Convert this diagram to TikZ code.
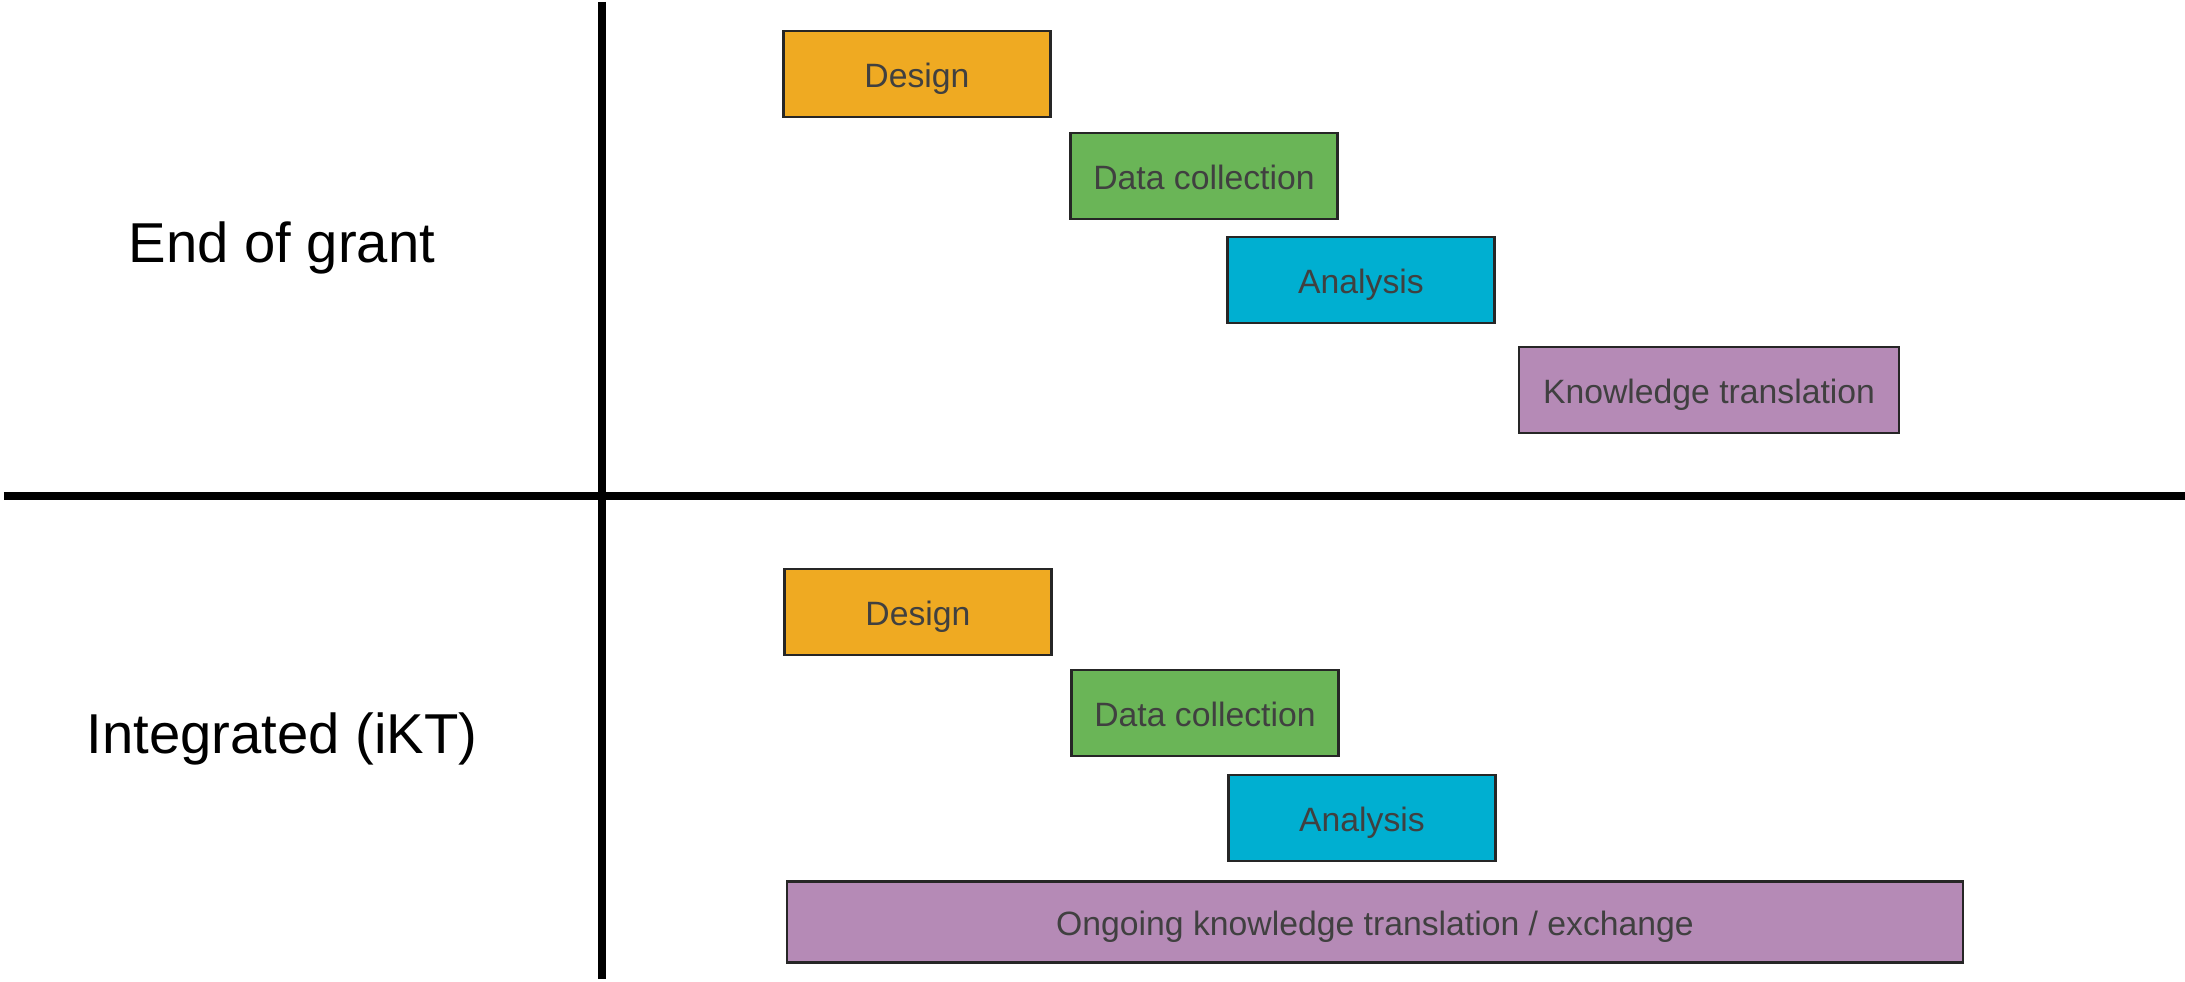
\documentclass[tikz,border=0pt]{standalone}
\usepackage{fontspec}
\setmainfont{Liberation Sans}
\usetikzlibrary{positioning}
\definecolor{designcol}{HTML}{EFAA22}
\definecolor{datacol}{HTML}{6AB557}
\definecolor{analysiscol}{HTML}{00AFD1}
\definecolor{ktcol}{HTML}{B58AB6}
\definecolor{labelgray}{HTML}{404040}
\tikzset{phase/.style={
            draw=black!85,
            line width=0.6pt,
            text=labelgray,
            font=\fontsize{9.6}{11}\selectfont,
            inner sep=0pt,
            text height=0.8em,
            text depth=0.04em,
            minimum width=2.67cm,
            minimum height=0.86cm
        },
        designbox/.style={
            phase,
            fill=designcol
        },
        databox/.style={
            phase,
            fill=datacol
        },
        analysisbox/.style={
            phase,
            fill=analysiscol
        },
        ktbox/.style={
            phase,
            fill=ktcol
        },
        rowlabel/.style={
            font=\fontsize{16}{19}\selectfont,
            inner sep=0pt
        },
        divider/.style={
            line width=2.4pt,
            black
        }
    }
\begin{document}
\begin{tikzpicture}
        \useasboundingbox (0,0) rectangle (21.85,9.81);
        % the two dividing rules
        \coordinate (vtop) at (6.02,9.79);
        \coordinate (vbot) at (6.02,0.02);
        \coordinate (hleft) at (0.04,4.85);
        \coordinate (hright) at (21.85,4.85);
        \draw[divider] (hleft) -- (hright);
        \draw[divider] (vtop) -- (vbot);
        % row labels
        \node[rowlabel] (endgrant) at (2.82,7.33) {End of grant};
        \node[rowlabel] (integrated) at (2.82,2.42) {Integrated (iKT)};
        % end of grant
        \node[designbox] (design1) at (9.17,9.07) {Design};
        \node[databox] (data1) at (12.04,8.05) {Data collection};
        \node[analysisbox] (analysis1) at (13.61,7.01) {Analysis};
        \node[ktbox,minimum width=3.80cm] (kt1) at (17.09,5.91) {Knowledge translation};
        % integrated
        \node[designbox] (design2) at (9.18,3.69) {Design};
        \node[databox] (data2) at (12.05,2.68) {Data collection};
        \node[analysisbox] (analysis2) at (13.62,1.63) {Analysis};
        \node[ktbox,minimum width=11.76cm,minimum height=0.81cm] (kt2) at (13.75,0.59) {Ongoing knowledge translation / exchange};
    \end{tikzpicture}
\end{document}
